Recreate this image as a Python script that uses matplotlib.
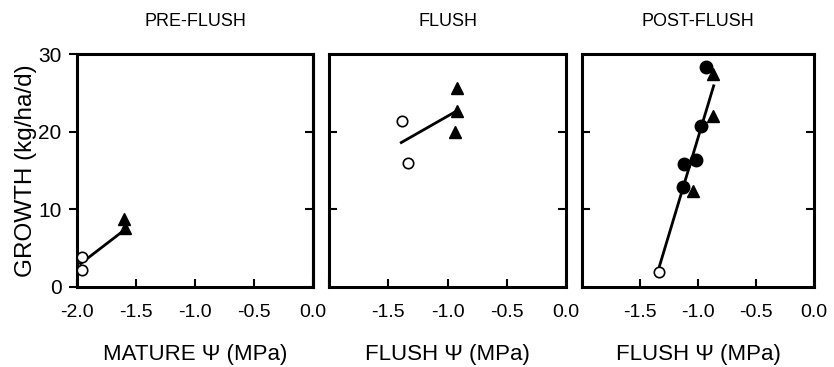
import matplotlib
matplotlib.use("Agg")
import matplotlib.pyplot as plt

plt.rcParams['font.family'] = ['Liberation Sans', 'DejaVu Sans']

titles = ["PRE-FLUSH", "FLUSH", "POST-FLUSH"]
xlabels = ["MATURE \u03a8 (MPa)", "FLUSH \u03a8 (MPa)", "FLUSH \u03a8 (MPa)"]
ylabel = "GROWTH (kg/ha/d)"

# Panel 1: pre-flush
p1_open_x = [-1.96, -1.96]
p1_open_y = [3.9, 2.2]
p1_tri_x = [-1.60, -1.59]
p1_tri_y = [8.75, 7.6]
p1_circ_x = []
p1_circ_y = []
p1_line_x = [-1.97, -1.61]
p1_line_y = [3.0, 7.2]

# Panel 2: flush
p2_open_x = [-1.38, -1.33]
p2_open_y = [21.4, 16.0]
p2_tri_x = [-0.92, -0.92, -0.94]
p2_tri_y = [25.6, 22.7, 20.0]
p2_circ_x = []
p2_circ_y = []
p2_line_x = [-1.39, -0.93]
p2_line_y = [18.6, 22.6]

# Panel 3: post-flush
p3_open_x = [-1.34]
p3_open_y = [1.9]
p3_circ_x = [-0.93, -0.97, -1.12, -1.02, -1.13]
p3_circ_y = [28.3, 20.7, 15.9, 16.3, 12.9]
p3_tri_x = [-0.87, -0.87, -1.045]
p3_tri_y = [27.4, 22.0, 12.4]
p3_line_x = [-1.34, -0.865]
p3_line_y = [2.3, 25.9]

panels = [
    (p1_open_x, p1_open_y, p1_tri_x, p1_tri_y, p1_circ_x, p1_circ_y, p1_line_x, p1_line_y),
    (p2_open_x, p2_open_y, p2_tri_x, p2_tri_y, p2_circ_x, p2_circ_y, p2_line_x, p2_line_y),
    (p3_open_x, p3_open_y, p3_tri_x, p3_tri_y, p3_circ_x, p3_circ_y, p3_line_x, p3_line_y),
]

W, H = 834, 367
fig = plt.figure(figsize=(W / 100, H / 100), dpi=100)
boxes = [(77, 313), (329, 566), (582, 814)]
top, bottom = 54, 287

for i, ((l, r), data) in enumerate(zip(boxes, panels)):
    ox, oy, tx, ty, cx, cy, lx, ly = data
    ax = fig.add_axes([l / W, 1 - bottom / H, (r - l) / W, (bottom - top) / H])
    ax.plot(lx, ly, color='black', lw=2, zorder=2)
    if cx:
        ax.plot(cx, cy, 'o', ms=9, color='black', zorder=3)
    ax.plot(tx, ty, '^', ms=9, color='black', zorder=3)
    ax.plot(ox, oy, 'o', ms=7.5, mfc='white', mec='black', mew=1.2, zorder=4)
    ax.set_xlim(-2.0, 0.0)
    ax.set_ylim(0, 30)
    for s in ax.spines.values():
        s.set_linewidth(2.2)
    ax.set_title(titles[i], fontsize=13, pad=20)
    ax.set_xlabel(xlabels[i], fontsize=16, labelpad=17)
    ax.set_xticks([-2.0, -1.5, -1.0, -0.5, 0.0])
    if i == 0:
        ax.set_xticklabels(["-2.0", "-1.5", "-1.0", "-0.5", "0.0"])
        ax.set_yticks([0, 10, 20, 30])
        ax.set_ylabel(ylabel, fontsize=17.5, labelpad=1)
        ax.tick_params(axis='y', direction='out', left=True, right=False,
                       length=6, width=1.5, labelsize=15, pad=5)
        axr = ax.secondary_yaxis('right')
        axr.set_yticks([10, 20])
        axr.tick_params(direction='in', length=6, width=1.5, labelright=False)
        axr.spines['right'].set_linewidth(2.2)
    else:
        ax.set_xticklabels(["", "-1.5", "-1.0", "-0.5", "0.0"])
        ax.set_yticks([10, 20])
        ax.tick_params(axis='y', direction='in', left=True, right=True,
                       labelleft=False, length=6, width=1.5)
    ax.tick_params(axis='x', direction='in', bottom=True, top=False, length=6, width=1.5,
                   labelsize=14, pad=12)

fig.savefig("out.png", dpi=100)
